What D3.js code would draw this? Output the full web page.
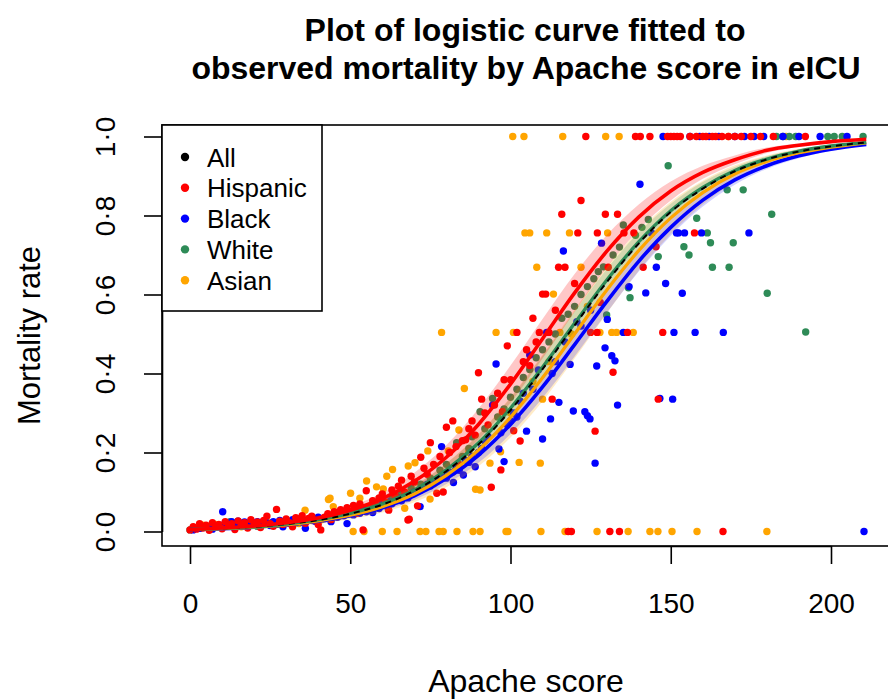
<!DOCTYPE html>
<html>
<head>
  <meta charset="utf-8">
  <title>Logistic curve by Apache score</title>
  <style>
    body { margin: 0; background: #fff; }
    svg text { font-family: "Liberation Sans", Arial, sans-serif; fill: #000; }
  </style>
</head>
<body>
  <div id="plot"></div>

  <script src="https://cdn.jsdelivr.net/npm/d3@7"></script>
  <script>
    // observed mortality rate by apache score, one point per score per group
    let hispanicPts = [[0,0.004],[1,0.012],[2,0.006],[3,0.02],[4,0.009],[5,0.016],[6,0.003],[7,0.022],[8,0.011],[9,0.018],[10,0.007],[11,0.025],[12,0.013],[13,0.02],[14,0.005],[15,0.027],[16,0.015],[17,0.022],[18,0.009],[19,0.03],[20,0.017],[21,0.024],[22,0.01],[23,0.028],[24,0.039],[25,0.02],[26,0.013],[27,0.056],[28,0.026],[29,0.018],[30,0.032],[31,0.022],[32,0.012],[33,0.035],[34,0.027],[35,0.04],[36,0.021],[37,0.033],[38,0.039],[39,0.028],[40,0.018],[40.8,0.004],[42,0.036],[43,0.045],[44,0.03],[45,0.05],[46,0.038],[47,0.055],[48,0.042],[49,0.06],[50,0.05],[51,0.066],[52,0.046],[53,0.07],[54,0.004],[55,0.103],[56,0.062],[57,0.078],[58,0.068],[59,0.085],[60,0.095],[61,0.075],[62,0.054],[63,0.105],[64,0.09],[65,0.115],[66,0.13],[67,0.1],[68,0.029],[68.4,0.031],[69,0.14],[70,0.125],[71,0.065],[72,0.188],[73,0.16],[74,0.145],[75,0.225],[76,0.17],[77,0.097],[78,0.19],[79,0.1],[80,0.264],[81,0.2],[82,0.28],[83,0.215],[84,0.17],[85,0.23],[86,0.232],[87,0.26],[88,0.28],[89,0.244],[90,0.402],[91,0.335],[92,0.3],[93,0.27],[94,0.112],[95,0.32],[96,0.35],[97,0.156],[97.5,0.303],[98,0.384],[99,0.47],[100,0.384],[101,0.255],[102,0.504],[103,0.229],[104,0.43],[105,0.46],[106,0.42],[107,0.54],[108,0.48],[109,0.504],[110,0.601],[111,0.601],[112,0.504],[113,0.335],[114,0.56],[115,0.669],[116,0.803],[117,0.669],[118,0],[119,0],[120,0.628],[121,0.756],[122,0.838],[123.5,1],[125,0.504],[127,0.504],[126.4,0.254],[127.1,0.756],[128,0.58],[129.6,0.803],[130.5,0.669],[131,0],[132,0.403],[133.4,0.803],[134,0],[135.4,0.756],[136.5,0.504],[138.5,0.756],[139,1],[140.5,1],[141.4,0.669],[143.5,1],[145.4,0.721],[146.1,0.335],[147.5,0.504],[149,1],[150,1],[151,1],[152,1],[153,1],[156,1],[157.4,0.756],[158,1],[160,1],[161,1],[163,1],[164,1],[166,1],[166.3,0],[168,1],[170,1],[172,1],[175,1],[178,1],[182,1],[192,1]];

    let blackPts = [[1,0.004],[3,0.008],[5,0.012],[7,0.006],[9,0.015],[10.2,0.05],[11,0.022],[12,0.018],[13,0.025],[14,0.02],[15,0.026],[16,0.015],[17,0.024],[18,0.02],[19,0.026],[20,0.018],[21,0.025],[22,0.02],[23,0.026],[24,0.022],[25,0.015],[26,0.025],[27,0.02],[28,0.028],[29,0.012],[30,0.025],[31,0.02],[32,0.03],[33,0.026],[34,0.032],[35,0.024],[36,0.008],[37,0.03],[38,0.034],[39,0.026],[40,0.036],[42,0.032],[43,0.04],[44,0.025],[45,0.042],[46,0.036],[47,0.045],[48,0.04],[49,0.02],[50,0.048],[51,0.042],[52,0.052],[53,0.046],[54,0.056],[55,0.05],[56,0.06],[57,0.048],[58,0.064],[59,0.058],[60,0.068],[61.9,0.056],[62,0.075],[63,0.07],[64,0.08],[65,0.085],[66,0.078],[67,0.09],[68,0.085],[69,0.095],[70,0.1],[71.8,0.063],[72,0.105],[73,0.11],[74,0.12],[75,0.115],[76,0.125],[77,0.13],[78.5,0.215],[79,0.14],[80,0.135],[81,0.15],[82.2,0.124],[83,0.16],[84,0.155],[85.3,0.143],[86,0.18],[87,0.175],[88,0.19],[89,0.164],[90,0.2],[91,0.21],[92,0.23],[93,0.24],[94.4,0.32],[95.5,0.424],[96.4,0.209],[97,0.25],[98,0.177],[99,0.27],[100,0.28],[101,0.3],[102,0.29],[103,0.33],[104,0.35],[105,0.254],[106,0.447],[107,0.36],[108.7,0.409],[110,0.234],[111.3,0.504],[112.5,0.285],[113,0.4],[114,0.43],[115.1,0.327],[116.5,0.71],[117,0.48],[118.6,0.423],[119.6,0.305],[120.7,0.531],[122,0.52],[123.2,0.303],[124,0.293],[124.8,0.285],[125,0.56],[126.4,0.173],[126.9,0.419],[128.4,0.73],[129.5,0.465],[130.2,0.537],[131.6,0.445],[132.6,0.432],[133.4,0.32],[135.2,0.504],[137,0.62],[140.4,0.879],[142.2,0.604],[144,0.756],[145.5,0.669],[146.6,0.337],[147.6,1],[148.4,0.628],[150.6,0.335],[151,0.504],[151.8,0.756],[152.4,0.756],[153.6,0.603],[154.3,0.756],[156,1],[157.6,0.504],[159,1],[159.6,0.756],[162,1],[165,1],[166.4,0.504],[170,1],[173,1],[174.4,0.756],[176,1],[179,1],[185,1],[190,1],[196.6,1],[205,1],[210.3,0]];

    let whitePts = [[0,0.004],[3,0.008],[6,0.01],[9,0.012],[12.5,0.025],[15,0.014],[18,0.016],[21,0.013],[24,0.02],[27,0.018],[30,0.024],[33,0.022],[36,0.028],[39,0.03],[42,0.035],[45,0.04],[48,0.045],[51,0.05],[54,0.058],[57,0.066],[60,0.075],[63,0.085],[66,0.095],[69,0.11],[72,0.12],[75,0.135],[78,0.155],[80,0.17],[83.2,0.225],[85,0.19],[87,0.21],[88,0.24],[90.5,0.303],[92,0.26],[94.4,0.337],[96,0.29],[98,0.31],[100,0.34],[102,0.36],[104,0.39],[106,0.41],[108,0.44],[110,0.46],[112,0.48],[114,0.5],[116,0.54],[118,0.55],[120,0.57],[122,0.6],[124,0.62],[126,0.64],[127.4,0.658],[129,0.67],[130,0.548],[132,0.7],[134,0.72],[135.2,0.776],[136.8,0.617],[137.3,0.592],[139,0.75],[141,0.77],[143,0.79],[146.1,0.696],[149.2,0.926],[154.1,0.721],[155.7,0.7],[158.1,0.793],[161.4,0.756],[162.4,0.731],[163,0.669],[167.6,0.865],[168.2,0.669],[169.5,0.731],[172.6,0.865],[180.1,0.603],[181.5,0.803],[183,1],[185,1],[187,1],[189,1],[192.1,0.505],[199,1],[201,1],[203.5,1],[210,1]];

    let asianPts = [[2,0.008],[4,0.016],[6,0.012],[8,0.018],[10,0.014],[13,0.016],[16,0.012],[19,0.018],[22,0.015],[25,0.022],[28,0.018],[31,0.024],[34,0.02],[35.9,0.054],[38,0.028],[41,0.03],[43.2,0.081],[43.7,0.084],[44.7,0.063],[47,0.04],[50.1,0.097],[50.9,0],[53,0.084],[54.3,0],[55.1,0.128],[58.2,0.113],[60,0],[60.3,0.108],[61.4,0.14],[63.2,0.157],[64.6,0],[65,0.08],[67,0.059],[68.1,0.166],[70.2,0.174],[71.8,0],[73.6,0],[74.2,0.204],[74.9,0.082],[76,0.12],[77.7,0],[78.5,0.504],[79,0],[80.6,0.204],[82,0.15],[83.3,0],[83.9,0.257],[85.6,0.362],[87,0.2],[88.3,0],[89.1,0.107],[90.5,0],[90.5,0.105],[92,0.23],[93.6,0.173],[95.5,0.504],[96.9,0.202],[98.6,0],[99.2,0],[100,0.3],[100.7,1],[100.9,0.504],[102.7,0.175],[103,0.33],[104.2,1],[104.5,0.756],[106,0.756],[107,0.38],[108.2,0.669],[109.3,0.173],[109.5,0],[110,0.335],[111.3,0.756],[112,0.43],[113.4,0.601],[115.4,0.504],[116.3,1],[117,0],[118.4,0.756],[119,0.5],[122,0.669],[124,0.57],[127,0],[127.9,0.504],[129.7,1],[130.3,0.756],[131.6,0.504],[133.1,0.504],[133.9,1],[136.7,0],[138.3,0.504],[143.5,0],[146,0],[150.4,0],[158.2,0],[168,1],[180,0],[186,1]];

    // fitted curves and confidence bands, read at these scores
    let scoreGrid = [0,10,20,30,40,50,60,70,80,90,100,110,120,130,140,150,160,170,180,190,200,211];
    let hispanicFit = [0.005,0.009,0.014,0.022,0.034,0.054,0.083,0.127,0.188,0.271,0.373,0.488,0.604,0.709,0.796,0.862,0.909,0.941,0.965,0.978,0.987,0.993];
    let hispanicLo  = [0.004,0.007,0.011,0.018,0.027,0.044,0.068,0.105,0.158,0.232,0.326,0.438,0.556,0.668,0.764,0.838,0.893,0.930,0.958,0.974,0.984,0.992];
    let hispanicHi  = [0.006,0.011,0.017,0.026,0.041,0.064,0.098,0.149,0.219,0.311,0.420,0.538,0.652,0.750,0.828,0.886,0.926,0.952,0.972,0.982,0.990,0.994];
    let blackFit = [0.005,0.007,0.011,0.017,0.026,0.040,0.060,0.090,0.134,0.193,0.271,0.366,0.473,0.582,0.684,0.770,0.839,0.890,0.926,0.951,0.968,0.980];
    let blackLo  = [0.004,0.006,0.010,0.015,0.023,0.035,0.053,0.080,0.120,0.174,0.247,0.338,0.443,0.553,0.658,0.749,0.823,0.878,0.918,0.945,0.964,0.978];
    let blackHi  = [0.006,0.008,0.012,0.019,0.029,0.045,0.067,0.100,0.148,0.212,0.295,0.394,0.503,0.611,0.710,0.791,0.855,0.902,0.934,0.957,0.972,0.982];
    let whiteFit = [0.005,0.008,0.012,0.019,0.030,0.046,0.070,0.105,0.156,0.224,0.312,0.416,0.527,0.636,0.733,0.812,0.871,0.914,0.943,0.963,0.976,0.985];
    let whiteLo  = [0.004,0.007,0.011,0.017,0.026,0.041,0.062,0.094,0.140,0.203,0.286,0.387,0.497,0.608,0.710,0.794,0.858,0.905,0.937,0.959,0.973,0.983];
    let whiteHi  = [0.006,0.009,0.013,0.021,0.034,0.051,0.078,0.116,0.172,0.245,0.338,0.445,0.557,0.664,0.757,0.830,0.885,0.923,0.950,0.967,0.979,0.987];
    let asianFit = [0.005,0.007,0.011,0.017,0.027,0.041,0.063,0.095,0.142,0.206,0.289,0.389,0.500,0.611,0.711,0.794,0.858,0.905,0.937,0.959,0.973,0.984];
    let asianLo  = [0.004,0.005,0.008,0.013,0.020,0.031,0.048,0.074,0.112,0.165,0.238,0.330,0.438,0.552,0.660,0.753,0.828,0.884,0.922,0.949,0.966,0.980];
    let asianHi  = [0.006,0.009,0.014,0.021,0.034,0.051,0.078,0.117,0.173,0.247,0.340,0.448,0.562,0.670,0.762,0.835,0.888,0.927,0.952,0.969,0.980,0.988];
    let allFit = [0.005,0.008,0.012,0.019,0.029,0.045,0.068,0.103,0.153,0.220,0.307,0.411,0.522,0.631,0.729,0.809,0.868,0.912,0.942,0.962,0.975,0.985];

    let legendLabels = ['All', 'Hispanic', 'Black', 'White', 'Asian'];
    let legendColors = ['#000000', '#ff0000', '#0000ff', '#2e8b57', '#ffa500'];
    let xTicks = [0, 50, 100, 150, 200];
    let yTicks = [0, 0.2, 0.4, 0.6, 0.8, 1.0];

    let svgWidth = 888;
    let svgHeight = 699;
    // plot box (right side runs off the picture, like the original)
    let box = {left: 162, top: 125, right: 897, bottom: 546};

    let svg = d3.select('#plot')
      .append('svg')
        .attr('width', svgWidth)
        .attr('height', svgHeight);

    let x = d3.scaleLinear().domain([0, 200]).range([190, 831]);
    let y = d3.scaleLinear().domain([0, 1]).range([531.5, 136.5]);

    svg.append('clipPath').attr('id', 'clip')
      .append('rect')
        .attr('x', box.left).attr('y', box.top)
        .attr('width', box.right - box.left).attr('height', box.bottom - box.top);

    let plot = svg.append('g').attr('clip-path', 'url(#clip)');

    // points, red drawn last so it sits on top
    let groups = [
      {pts: asianPts, color: '#ffa500'},
      {pts: whitePts, color: '#2e8b57'},
      {pts: blackPts, color: '#0000ff'},
      {pts: hispanicPts, color: '#ff0000'}
    ];
    groups.forEach(function (g) {
      plot.append('g').selectAll('circle')
        .data(g.pts)
        .enter()
          .append('circle')
          .attr('cx', d => x(d[0]))
          .attr('cy', d => y(d[1]))
          .attr('r', 3.7)
          .attr('fill', g.color);
    });

    function rows(fit, lo, hi) {
      return scoreGrid.map((s, i) => ({s: s, fit: fit[i], lo: lo ? lo[i] : 0, hi: hi ? hi[i] : 0}));
    }

    let band = d3.area()
      .x(d => x(d.s))
      .y0(d => y(d.lo))
      .y1(d => y(d.hi))
      .curve(d3.curveMonotoneX);
    let line = d3.line()
      .x(d => x(d.s))
      .y(d => y(d.fit))
      .curve(d3.curveMonotoneX);

    // confidence bands
    let bands = [
      {d: rows(asianFit, asianLo, asianHi), fill: 'rgba(255,165,0,0.22)'},
      {d: rows(blackFit, blackLo, blackHi), fill: 'rgba(0,0,255,0.18)'},
      {d: rows(whiteFit, whiteLo, whiteHi), fill: 'rgba(46,139,87,0.2)'},
      {d: rows(hispanicFit, hispanicLo, hispanicHi), fill: 'rgba(255,0,0,0.22)'}
    ];
    bands.forEach(function (b) {
      plot.append('path').datum(b.d).attr('d', band).attr('fill', b.fill);
    });

    // fitted curves
    let curves = [
      {d: rows(blackFit), color: '#0000ff', w: 3.6, dash: null},
      {d: rows(asianFit), color: '#ffa500', w: 3.2, dash: null},
      {d: rows(whiteFit), color: '#2e8b57', w: 3.4, dash: null},
      {d: rows(allFit), color: '#000000', w: 2, dash: '6,5'},
      {d: rows(hispanicFit), color: '#ff0000', w: 3.6, dash: null}
    ];
    curves.forEach(function (c) {
      plot.append('path').datum(c.d)
        .attr('d', line)
        .attr('fill', 'none')
        .attr('stroke', c.color)
        .attr('stroke-width', c.w)
        .attr('stroke-dasharray', c.dash);
    });

    // box
    svg.append('rect')
      .attr('x', box.left).attr('y', box.top)
      .attr('width', box.right - box.left).attr('height', box.bottom - box.top)
      .attr('fill', 'none').attr('stroke', '#000').attr('stroke-width', 1.6);

    // axes
    let xAxis = d3.axisBottom(x).tickValues(xTicks).tickSize(18).tickSizeOuter(0);
    let gx = svg.append('g')
      .attr('transform', 'translate(0,' + box.bottom + ')')
      .call(xAxis);
    gx.selectAll('path, line').attr('stroke', '#000').attr('stroke-width', 1.6);
    gx.selectAll('text')
      .attr('y', 67).attr('dy', 0)
      .style('font-size', '28px')
      .style('font-family', '"Liberation Sans", Arial, sans-serif')
      .attr('fill', '#000');

    let yAxis = d3.axisLeft(y).tickValues(yTicks).tickSize(18).tickSizeOuter(0)
      .tickFormat(d => d3.format('.1f')(d).replace('.', '\u00b7'));
    let gy = svg.append('g')
      .attr('transform', 'translate(' + box.left + ',0)')
      .call(yAxis);
    gy.selectAll('path, line').attr('stroke', '#000').attr('stroke-width', 1.6);
    gy.selectAll('text')
      .attr('x', 0).attr('y', 0).attr('dy', 0)
      .attr('transform', 'translate(-47,0) rotate(-90)')
      .attr('text-anchor', 'middle')
      .style('font-size', '28px')
      .style('font-family', '"Liberation Sans", Arial, sans-serif')
      .attr('fill', '#000');

    // titles
    svg.append('text')
      .attr('x', 525).attr('y', 41)
      .attr('text-anchor', 'middle')
      .style('font-size', '32px').style('font-weight', 'bold')
      .text('Plot of logistic curve fitted to');
    svg.append('text')
      .attr('x', 526).attr('y', 79)
      .attr('text-anchor', 'middle')
      .style('font-size', '32px').style('font-weight', 'bold')
      .text('observed mortality by Apache score in eICU');

    svg.append('text')
      .attr('x', 526).attr('y', 692)
      .attr('text-anchor', 'middle')
      .style('font-size', '32px')
      .text('Apache score');
    svg.append('text')
      .attr('transform', 'translate(40,' + ((box.top + box.bottom) / 2) + ') rotate(-90)')
      .attr('text-anchor', 'middle')
      .style('font-size', '31px')
      .text('Mortality rate');

    // legend
    let legend = svg.append('g');
    legend.append('rect')
      .attr('x', box.left).attr('y', box.top)
      .attr('width', 160).attr('height', 186)
      .attr('fill', '#fff').attr('stroke', '#000').attr('stroke-width', 1.6);
    legendLabels.forEach(function (lab, i) {
      let cy = 157 + i * 30.8;
      legend.append('circle')
        .attr('cx', 185).attr('cy', cy).attr('r', 4.2)
        .attr('fill', legendColors[i]);
      legend.append('text')
        .attr('x', 207).attr('y', cy + 9.5)
        .style('font-size', '26px')
        .text(lab);
    });
  </script>
</body>
</html>
